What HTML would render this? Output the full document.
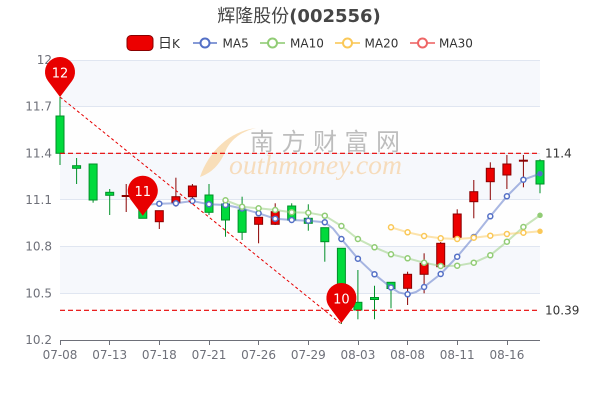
<!DOCTYPE html>
<html><head><meta charset="utf-8"><style>
html,body{margin:0;padding:0;background:#fff;}
svg{display:block;font-family:"DejaVu Sans","Liberation Sans","Noto Sans CJK SC",sans-serif;}
</style></head><body>
<svg width="600" height="400" viewBox="0 0 600 400" xmlns="http://www.w3.org/2000/svg">
<!-- title -->
<text x="299" y="22" text-anchor="middle" font-size="18" fill="#464646"><tspan font-family="'Noto Sans CJK SC',sans-serif">辉隆股份</tspan><tspan font-weight="bold">(002556)</tspan></text>
<!-- legend -->
<rect x="127" y="35.5" width="26" height="15" rx="4" fill="#ec0000" stroke="#8a0000" stroke-width="1"/>
<text x="158" y="48" font-size="12" fill="#333"><tspan font-family="'Noto Sans CJK SC',sans-serif" font-size="14">日</tspan>K</text>
<g stroke-width="2" fill="#fff">
<line x1="193" y1="43" x2="217" y2="43" stroke="#5470c6" stroke-opacity="0.7"/><circle cx="205" cy="43" r="4.5" stroke="#5470c6"/>
<line x1="260" y1="43" x2="285" y2="43" stroke="#91cc75" stroke-opacity="0.8"/><circle cx="272.5" cy="43" r="4.5" stroke="#91cc75"/>
<line x1="335" y1="43" x2="360" y2="43" stroke="#fac858" stroke-opacity="0.8"/><circle cx="347.5" cy="43" r="4.5" stroke="#fac858"/>
<line x1="410" y1="43" x2="435" y2="43" stroke="#ee6666" stroke-opacity="0.8"/><circle cx="422.5" cy="43" r="4.5" stroke="#ee6666"/>
</g>
<g font-size="12" fill="#333">
<text x="222.5" y="47.5">MA5</text>
<text x="290" y="47.5">MA10</text>
<text x="364.5" y="47.5">MA20</text>
<text x="439" y="47.5">MA30</text>
</g>
<!-- bands -->
<rect x="60" y="60" width="480" height="46.67" fill="#f6f8fc"/>
<rect x="60" y="106.67" width="480" height="46.67" fill="#fefefe"/>
<rect x="60" y="153.33" width="480" height="46.67" fill="#f6f8fc"/>
<rect x="60" y="200" width="480" height="46.67" fill="#fefefe"/>
<rect x="60" y="246.67" width="480" height="46.67" fill="#f6f8fc"/>
<rect x="60" y="293.33" width="480" height="46.67" fill="#fefefe"/>
<g stroke="#e0e6f1" stroke-width="1">
<line x1="60" y1="60.5" x2="540" y2="60.5"/>
<line x1="60" y1="106.5" x2="540" y2="106.5"/>
<line x1="60" y1="153.5" x2="540" y2="153.5"/>
<line x1="60" y1="199.5" x2="540" y2="199.5"/>
<line x1="60" y1="246.5" x2="540" y2="246.5"/>
<line x1="60" y1="293.5" x2="540" y2="293.5"/>
</g>
<!-- watermark -->
<path d="M256,128 C230,131 209,151 200,177 C214,172 221,162 226,150 C232,138 243,131 256,128 Z" fill="#f8d9ad" opacity="0.85"/>
<text x="250" y="150" font-size="24" fill="#bdbdbd" textLength="150" lengthAdjust="spacing" font-family="'Noto Sans CJK SC',sans-serif">南方财富网</text>
<text x="229" y="174" font-size="27" font-style="italic" fill="#f6dcbc" font-family="'Liberation Serif',serif" textLength="173" lengthAdjust="spacingAndGlyphs">outhmoney.com</text>
<!-- y labels -->
<g font-size="12" fill="#6e7079" text-anchor="end">
<text x="52" y="64">12</text>
<text x="52" y="110.7">11.7</text>
<text x="52" y="157.3">11.4</text>
<text x="52" y="204">11.1</text>
<text x="52" y="250.7">10.8</text>
<text x="52" y="297.3">10.5</text>
<text x="52" y="344">10.2</text>
</g>
<!-- x axis -->
<line x1="60" y1="340.5" x2="540" y2="340.5" stroke="#6e7079" stroke-width="1"/>
<g stroke="#6e7079" stroke-width="1">
<line x1="60.5" y1="340" x2="60.5" y2="345"/>
<line x1="109.5" y1="340" x2="109.5" y2="345"/>
<line x1="159.5" y1="340" x2="159.5" y2="345"/>
<line x1="209.5" y1="340" x2="209.5" y2="345"/>
<line x1="258.5" y1="340" x2="258.5" y2="345"/>
<line x1="308.5" y1="340" x2="308.5" y2="345"/>
<line x1="358.5" y1="340" x2="358.5" y2="345"/>
<line x1="407.5" y1="340" x2="407.5" y2="345"/>
<line x1="457.5" y1="340" x2="457.5" y2="345"/>
<line x1="507.5" y1="340" x2="507.5" y2="345"/>
</g>
<g font-size="12" fill="#6e7079" text-anchor="middle">
<text x="60" y="359">07-08</text>
<text x="109.7" y="359">07-13</text>
<text x="159.3" y="359">07-18</text>
<text x="209" y="359">07-21</text>
<text x="258.6" y="359">07-26</text>
<text x="308.3" y="359">07-29</text>
<text x="357.9" y="359">08-03</text>
<text x="407.6" y="359">08-08</text>
<text x="457.2" y="359">08-11</text>
<text x="506.9" y="359">08-16</text>
</g>
<!-- candles: green -->
<g stroke="#008f28" stroke-width="1" fill="#00da3c">
<line x1="60" y1="97" x2="60" y2="165"/><rect x="56" y="116" width="8" height="37.3"/>
<line x1="76.6" y1="158" x2="76.6" y2="184"/><rect x="72.6" y="165.7" width="8" height="2.6"/>
<line x1="93.1" y1="164" x2="93.1" y2="202.7"/><rect x="89.1" y="164" width="8" height="36"/>
<line x1="109.7" y1="189" x2="109.7" y2="215"/><rect x="105.7" y="192.3" width="8" height="3"/>
<line x1="142.8" y1="200" x2="142.8" y2="218.3"/><rect x="138.8" y="202" width="8" height="16.3"/>
<line x1="209" y1="184" x2="209" y2="215"/><rect x="205" y="195" width="8" height="17.3"/>
<line x1="225.5" y1="202" x2="225.5" y2="236.7"/><rect x="221.5" y="204" width="8" height="16"/>
<line x1="242.1" y1="196.7" x2="242.1" y2="240"/><rect x="238.1" y="210" width="8" height="22.3"/>
<line x1="291.7" y1="203.3" x2="291.7" y2="220"/><rect x="287.7" y="206" width="8" height="14"/>
<line x1="308.3" y1="204.3" x2="308.3" y2="230.7"/><rect x="304.3" y="218.3" width="8" height="5"/>
<line x1="324.8" y1="227.7" x2="324.8" y2="261.7"/><rect x="320.8" y="227.7" width="8" height="14"/>
<line x1="341.4" y1="248.3" x2="341.4" y2="324"/><rect x="337.4" y="248.3" width="8" height="57"/>
<line x1="357.9" y1="270" x2="357.9" y2="319.3"/><rect x="353.9" y="302.3" width="8" height="7.7"/>
<line x1="374.5" y1="285.7" x2="374.5" y2="319.3"/><rect x="370.5" y="297.5" width="8" height="2"/>
<line x1="391" y1="282.3" x2="391" y2="308.3"/><rect x="387" y="282.3" width="8" height="6.2"/>
<line x1="540" y1="159.3" x2="540" y2="193.3"/><rect x="536" y="160.7" width="8" height="23.3"/>
</g>
<!-- candles: red -->
<g stroke="#8a0000" stroke-width="1" fill="#ec0000">
<line x1="126.2" y1="184" x2="126.2" y2="212"/><rect x="122.2" y="195.5" width="8" height="1"/>
<line x1="159.3" y1="210.7" x2="159.3" y2="229"/><rect x="155.3" y="210.7" width="8" height="11"/>
<line x1="175.9" y1="177.7" x2="175.9" y2="206.7"/><rect x="171.9" y="196.7" width="8" height="6"/>
<line x1="192.4" y1="184" x2="192.4" y2="198"/><rect x="188.4" y="186" width="8" height="10.7"/>
<line x1="258.6" y1="217.3" x2="258.6" y2="243.3"/><rect x="254.6" y="217.3" width="8" height="7"/>
<line x1="275.2" y1="203.3" x2="275.2" y2="225"/><rect x="271.2" y="211.7" width="8" height="12.6"/>
<line x1="407.6" y1="271.7" x2="407.6" y2="305"/><rect x="403.6" y="274.3" width="8" height="14"/>
<line x1="424.1" y1="253.3" x2="424.1" y2="293.3"/><rect x="420.1" y="263.3" width="8" height="11"/>
<line x1="440.7" y1="242" x2="440.7" y2="266.7"/><rect x="436.7" y="243.3" width="8" height="23.4"/>
<line x1="457.2" y1="209.3" x2="457.2" y2="237.3"/><rect x="453.2" y="214" width="8" height="23.3"/>
<line x1="473.8" y1="180" x2="473.8" y2="218.3"/><rect x="469.8" y="191.7" width="8" height="10"/>
<line x1="490.3" y1="162.3" x2="490.3" y2="200"/><rect x="486.3" y="168.3" width="8" height="13.4"/>
<line x1="506.9" y1="155" x2="506.9" y2="189"/><rect x="502.9" y="164" width="8" height="11"/>
<line x1="523.4" y1="155" x2="523.4" y2="187.3"/><rect x="519.4" y="160.2" width="8" height="1"/>
</g>
<!-- MA lines -->
<g fill="none" stroke-width="2" stroke-linejoin="round" stroke-linecap="round">
<polyline stroke="#5470c6" stroke-opacity="0.5" points="142.8,205 159.3,203.7 175.9,203.3 192.4,201 209,204.3 225.5,205 242.1,208.5 258.6,213.3 275.2,218.7 291.7,220 308.3,220.7 324.8,222.3 333,228.5 341.4,239 357.9,258.7 374.5,274.3 391,287.5 399,292.5 407.6,294.3 416,292 424.1,287 440.7,274 457.2,256.7 473.8,237 490.3,216.3 506.9,196.3 523.4,179.7 540,173.7"/>
<polyline stroke="#91cc75" stroke-opacity="0.5" points="225.5,200.3 242.1,206.7 258.6,208.3 275.2,210 291.7,212.3 308.3,212.7 324.8,215.7 341.4,226 357.9,239 374.5,247.3 391,254.3 407.6,258.3 424.1,262.7 440.7,266 457.2,265.7 473.8,262.7 490.3,255.3 506.9,241.7 523.4,227 540,215.3"/>
<polyline stroke="#fac858" stroke-opacity="0.5" points="391,227.3 407.6,232.3 424.1,236 440.7,238.3 457.2,239 473.8,237.7 490.3,235.7 506.9,234 523.4,232.7 540,231.3"/>
</g>
<g fill="#fff" stroke-width="1.5">
<g stroke="#5470c6">
<circle cx="142.8" cy="205" r="2.5"/><circle cx="159.3" cy="203.7" r="2.5"/><circle cx="175.9" cy="203.3" r="2.5"/><circle cx="192.4" cy="201" r="2.5"/><circle cx="209" cy="204.3" r="2.5"/><circle cx="225.5" cy="205" r="2.5"/><circle cx="242.1" cy="208.5" r="2.5"/><circle cx="258.6" cy="213.3" r="2.5"/><circle cx="275.2" cy="218.7" r="2.5"/><circle cx="291.7" cy="220" r="2.5"/><circle cx="308.3" cy="220.7" r="2.5"/><circle cx="324.8" cy="222.3" r="2.5"/><circle cx="341.4" cy="239" r="2.5"/><circle cx="357.9" cy="258.7" r="2.5"/><circle cx="374.5" cy="274.3" r="2.5"/><circle cx="391" cy="287.5" r="2.5"/><circle cx="407.6" cy="294.3" r="2.5"/><circle cx="424.1" cy="287" r="2.5"/><circle cx="440.7" cy="274" r="2.5"/><circle cx="457.2" cy="256.7" r="2.5"/><circle cx="473.8" cy="237" r="2.5"/><circle cx="490.3" cy="216.3" r="2.5"/><circle cx="506.9" cy="196.3" r="2.5"/><circle cx="523.4" cy="179.7" r="2.5"/><circle cx="540" cy="173.7" r="2" fill="#5470c6"/>
</g>
<g stroke="#91cc75">
<circle cx="225.5" cy="200.3" r="2.5"/><circle cx="242.1" cy="206.7" r="2.5"/><circle cx="258.6" cy="208.3" r="2.5"/><circle cx="275.2" cy="210" r="2.5"/><circle cx="291.7" cy="212.3" r="2.5"/><circle cx="308.3" cy="212.7" r="2.5"/><circle cx="324.8" cy="215.7" r="2.5"/><circle cx="341.4" cy="226" r="2.5"/><circle cx="357.9" cy="239" r="2.5"/><circle cx="374.5" cy="247.3" r="2.5"/><circle cx="391" cy="254.3" r="2.5"/><circle cx="407.6" cy="258.3" r="2.5"/><circle cx="424.1" cy="262.7" r="2.5"/><circle cx="440.7" cy="266" r="2.5"/><circle cx="457.2" cy="265.7" r="2.5"/><circle cx="473.8" cy="262.7" r="2.5"/><circle cx="490.3" cy="255.3" r="2.5"/><circle cx="506.9" cy="241.7" r="2.5"/><circle cx="523.4" cy="227" r="2.5"/><circle cx="540" cy="215.3" r="2" fill="#91cc75"/>
</g>
<g stroke="#fac858">
<circle cx="391" cy="227.3" r="2.5"/><circle cx="407.6" cy="232.3" r="2.5"/><circle cx="424.1" cy="236" r="2.5"/><circle cx="440.7" cy="238.3" r="2.5"/><circle cx="457.2" cy="239" r="2.5"/><circle cx="473.8" cy="237.7" r="2.5"/><circle cx="490.3" cy="235.7" r="2.5"/><circle cx="506.9" cy="234" r="2.5"/><circle cx="523.4" cy="232.7" r="2.5"/><circle cx="540" cy="231.3" r="2" fill="#fac858"/>
</g>
</g>
<!-- mark lines -->
<g stroke="#e60000" fill="none">
<line x1="60" y1="153.3" x2="540" y2="153.3" stroke-width="1.2" stroke-dasharray="5,3"/>
<line x1="60" y1="310.3" x2="540" y2="310.3" stroke-width="1.2" stroke-dasharray="5,3"/>
<line x1="60" y1="97" x2="341.4" y2="324" stroke-width="1" stroke-dasharray="3,2.5"/>
</g>
<g font-size="12" fill="#333">
<text x="545" y="157.5">11.4</text>
<text x="545" y="314.5">10.39</text>
</g>
<!-- pins -->
<g fill="#e80000">
<path d="M60,97 L48,81 A15,15 0 1 1 72,81 Z"/>
<path d="M142.8,215.7 L130.8,199.7 A15,15 0 1 1 154.8,199.7 Z"/>
<path d="M341.4,323 L329.4,307 A15,15 0 1 1 353.4,307 Z"/>
</g>
<g font-size="13" fill="#fff" text-anchor="middle">
<text x="60" y="77.5">12</text>
<text x="142.8" y="196">11</text>
<text x="341.4" y="303.5">10</text>
</g>
</svg>
</body></html>
